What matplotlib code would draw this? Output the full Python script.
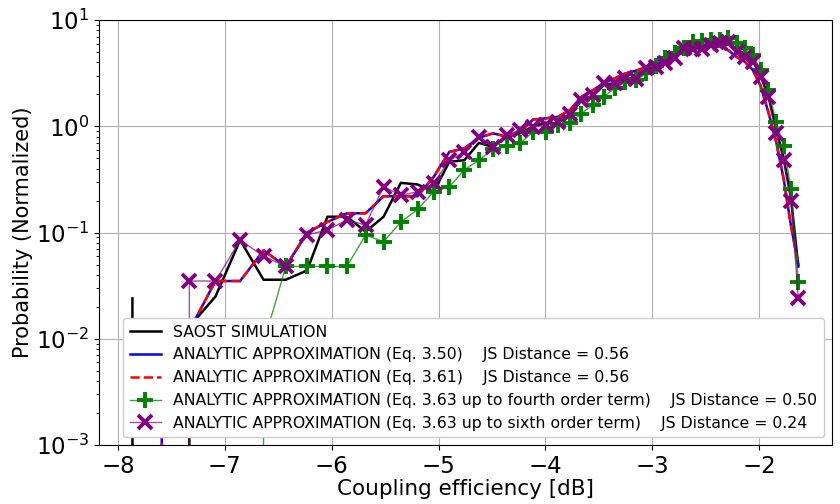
import matplotlib
matplotlib.use('Agg')
import matplotlib.pyplot as plt

# bin centres of the coupling efficiency histogram [dB]
coupling_db = [-7.865, -7.590, -7.332, -7.088, -6.857, -6.638, -6.430, -6.231, -6.040, -5.858,
               -5.683, -5.515, -5.353, -5.197, -5.046, -4.900, -4.759, -4.623, -4.491, -4.362,
               -4.238, -4.116, -3.999, -3.883, -3.772, -3.663, -3.556, -3.452, -3.351, -3.252,
               -3.155, -3.060, -2.967, -2.877, -2.788, -2.700, -2.615, -2.531, -2.449, -2.368,
               -2.289, -2.211, -2.135, -2.060, -1.986, -1.913, -1.842, -1.771, -1.702, -1.634]

saost = [0.024, 0, 0.013, 0.025, 0.085, 0.036, 0.036, 0.044, 0.141, 0.141,
         0.102, 0.141, 0.294, 0.284, 0.242, 0.464, 0.48, 0.70, 0.64, 0.80,
         0.86, 1.00, 1.08, 1.07, 1.32, 1.75, 1.95, 2.45, 2.55, 2.8,
         2.85, 3.4, 3.7, 4.0, 4.5, 5.3, 5.4, 5.5, 5.9, 6.1,
         6.2, 5.3, 4.8, 4.2, 3.0, 1.9, 0.95, 0.5, 0.21, 0.048]

eq350 = [0, 0.003, 0.012, 0.035, 0.035, 0.068, 0.048, 0.10, 0.126, 0.152,
         0.152, 0.22, 0.22, 0.22, 0.335, 0.575, 0.62, 0.78, 0.86, 0.80,
         0.89, 1.16, 1.19, 1.23, 1.42, 1.90, 2.19, 2.57, 2.83, 3.15,
         3.34, 3.6, 4.06, 4.6, 4.9, 5.6, 5.8, 5.8, 5.9, 5.8,
         5.2, 4.5, 4.06, 3.4, 2.4, 1.35, 0.72, 0.32, 0.115, 0.05]

eq361 = [0, 0.003, 0.012, 0.035, 0.035, 0.068, 0.048, 0.10, 0.126, 0.152,
         0.152, 0.22, 0.22, 0.22, 0.335, 0.575, 0.62, 0.78, 0.86, 0.80,
         0.89, 1.16, 1.19, 1.23, 1.42, 1.90, 2.19, 2.57, 2.83, 3.15,
         3.34, 3.6, 4.06, 4.6, 4.9, 5.6, 5.8, 5.8, 5.9, 5.8,
         5.2, 4.5, 4.06, 3.4, 2.4, 1.35, 0.72, 0.32, 0.115, 0.05]

eq363_4th = [0, 0, 0, 0, 0, 0.009, 0.048, 0.048, 0.048, 0.048,
             0.095, 0.082, 0.126, 0.165, 0.242, 0.27, 0.39, 0.48, 0.61, 0.65,
             0.69, 0.89, 0.89, 1.03, 1.08, 1.32, 1.6, 1.90, 2.3, 2.62,
             2.72, 3.15, 3.7, 4.4, 4.87, 5.5, 6.25, 6.3, 6.49, 6.5,
             6.73, 6.04, 5.42, 4.69, 3.38, 2.19, 1.10, 0.65, 0.26, 0.034]

eq363_6th = [0, 0, 0.035, 0.035, 0.085, 0.060, 0.048, 0.095, 0.106, 0.131,
             0.118, 0.27, 0.225, 0.242, 0.29, 0.48, 0.57, 0.80, 0.64, 0.83,
             0.92, 0.99, 1.03, 1.10, 1.30, 1.77, 1.97, 2.54, 2.54, 2.83,
             2.77, 3.51, 3.63, 3.91, 4.36, 5.42, 5.30, 5.30, 5.82, 6.04,
             6.25, 5.03, 4.52, 4.06, 2.93, 1.90, 0.86, 0.48, 0.20, 0.024]

labels = [
    'SAOST SIMULATION',
    'ANALYTIC APPROXIMATION (Eq. 3.50)    JS Distance = 0.56',
    'ANALYTIC APPROXIMATION (Eq. 3.61)    JS Distance = 0.56',
    'ANALYTIC APPROXIMATION (Eq. 3.63 up to fourth order term)    JS Distance = 0.50',
    'ANALYTIC APPROXIMATION (Eq. 3.63 up to sixth order term)    JS Distance = 0.24',
]

plt.figure(figsize=(8.4, 5.04), dpi=100)
plt.subplots_adjust(left=0.118, right=0.99, bottom=0.117, top=0.96)

plt.plot(coupling_db, saost, '-', color='black', lw=1.8, label=labels[0])
plt.plot(coupling_db, eq350, '-', color='blue', lw=1.8, label=labels[1])
plt.plot(coupling_db, eq361, '--', color='red', lw=1.8, label=labels[2])
plt.plot(coupling_db, eq363_4th, '-+', color=(0, 0.5, 0, 0.75), lw=1,
         markeredgecolor='green', markersize=11, markeredgewidth=2.8, label=labels[3])
plt.plot(coupling_db, eq363_6th, '-x', color=(0.5, 0, 0.5, 0.7), lw=1,
         markeredgecolor='purple', markersize=10, markeredgewidth=2.8, label=labels[4])

plt.yscale('log')
plt.ylim(1e-3, 1e1)
plt.grid(True, color='#b0b0b0', lw=0.8)
plt.tick_params(labelsize=16.5)
plt.xlabel('Coupling efficiency [dB]', fontsize=15.5, labelpad=1)
plt.ylabel('Probability (Normalized)', fontsize=15, labelpad=2)
# legend in the lower right corner, as in the thesis figure
plt.legend(loc='lower right', fontsize=11.3, labelspacing=0.5, framealpha=1)

plt.savefig('out.png', dpi=100)
